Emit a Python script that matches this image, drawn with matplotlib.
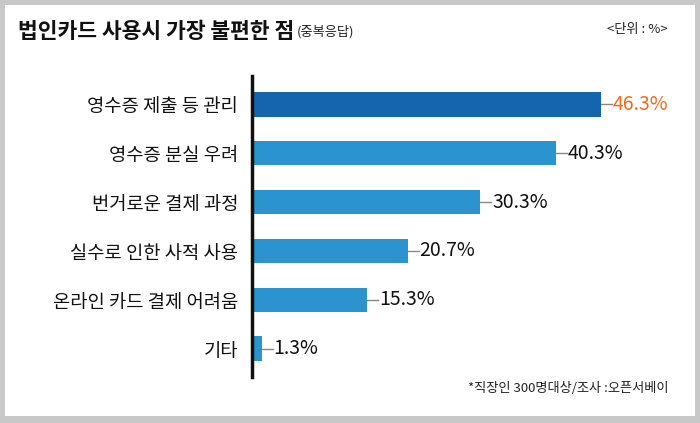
import matplotlib.pyplot as plt
from matplotlib.patches import Rectangle

plt.rcParams['font.family'] = ['Noto Sans CJK KR', 'DejaVu Sans']

# 데이터
categories = ['영수증 제출 등 관리', '영수증 분실 우려', '번거로운 결제 과정',
              '실수로 인한 사적 사용', '온라인 카드 결제 어려움', '기타']
values = [46.3, 40.3, 30.3, 20.7, 15.3, 1.3]
labels = ['46.3%', '40.3%', '30.3%', '20.7%', '15.3%', '1.3%']

W, H = 700, 423
fig = plt.figure(figsize=(W / 100, H / 100), dpi=100)
fig.patch.set_facecolor('#c8c8c8')
# 흰색 패널
fig.patches.append(Rectangle((5 / W, 7 / H), 690 / W, 411 / H,
                             transform=fig.transFigure, facecolor='white',
                             edgecolor='none', zorder=-10))

ax = fig.add_axes([252 / W, (H - 377) / H, 437 / W, 301 / H])
ax.set_facecolor('none')

y = list(range(len(values)))
colors = ['#1565ae'] + ['#2b93d0'] * (len(values) - 1)
ax.barh(y, values, height=0.5, color=colors, zorder=2)

ax.set_xlim(0, 58)
ax.set_ylim(5.58, -0.58)

for i, (v, lab) in enumerate(zip(values, labels)):
    ax.plot([v, v + 1.45], [i, i], color='#888888', lw=1, zorder=1)
    ax.text(v + 1.55, i, lab, va='center', ha='left', fontsize=14,
            fontweight='medium', color='#f26a1b' if i == 0 else '#111111')

ax.set_yticks(y)
ax.set_yticklabels(categories, fontsize=13.5, fontweight='medium')
ax.tick_params(axis='y', length=0, pad=10, colors='#111111')
ax.set_xticks([])
for s in ['top', 'right', 'bottom']:
    ax.spines[s].set_visible(False)
ax.spines['left'].set_linewidth(2.5)
ax.spines['left'].set_color('#111111')
ax.spines['left'].set_zorder(3)

# 제목 및 주석
title = fig.text(18 / W, 1 - 31 / H, '법인카드 사용시 가장 불편한 점', fontsize=15.5,
                 fontweight='bold', va='center', ha='left', color='#111111')
fig.canvas.draw()
bb = title.get_window_extent()
fig.text((bb.x1 + 2) / W, 1 - 32 / H, '(중복응답)', fontsize=9.5, va='center',
         ha='left', color='#222222')
fig.text(668 / W, 1 - 30 / H, '<단위 : %>', fontsize=9.5, va='center',
         ha='right', color='#222222')
fig.text(668 / W, 1 - 388 / H, '*직장인 300명대상/조사 :오픈서베이', fontsize=9.5,
         va='center', ha='right', color='#222222')

fig.savefig('out.png', dpi=100, facecolor=fig.get_facecolor())
